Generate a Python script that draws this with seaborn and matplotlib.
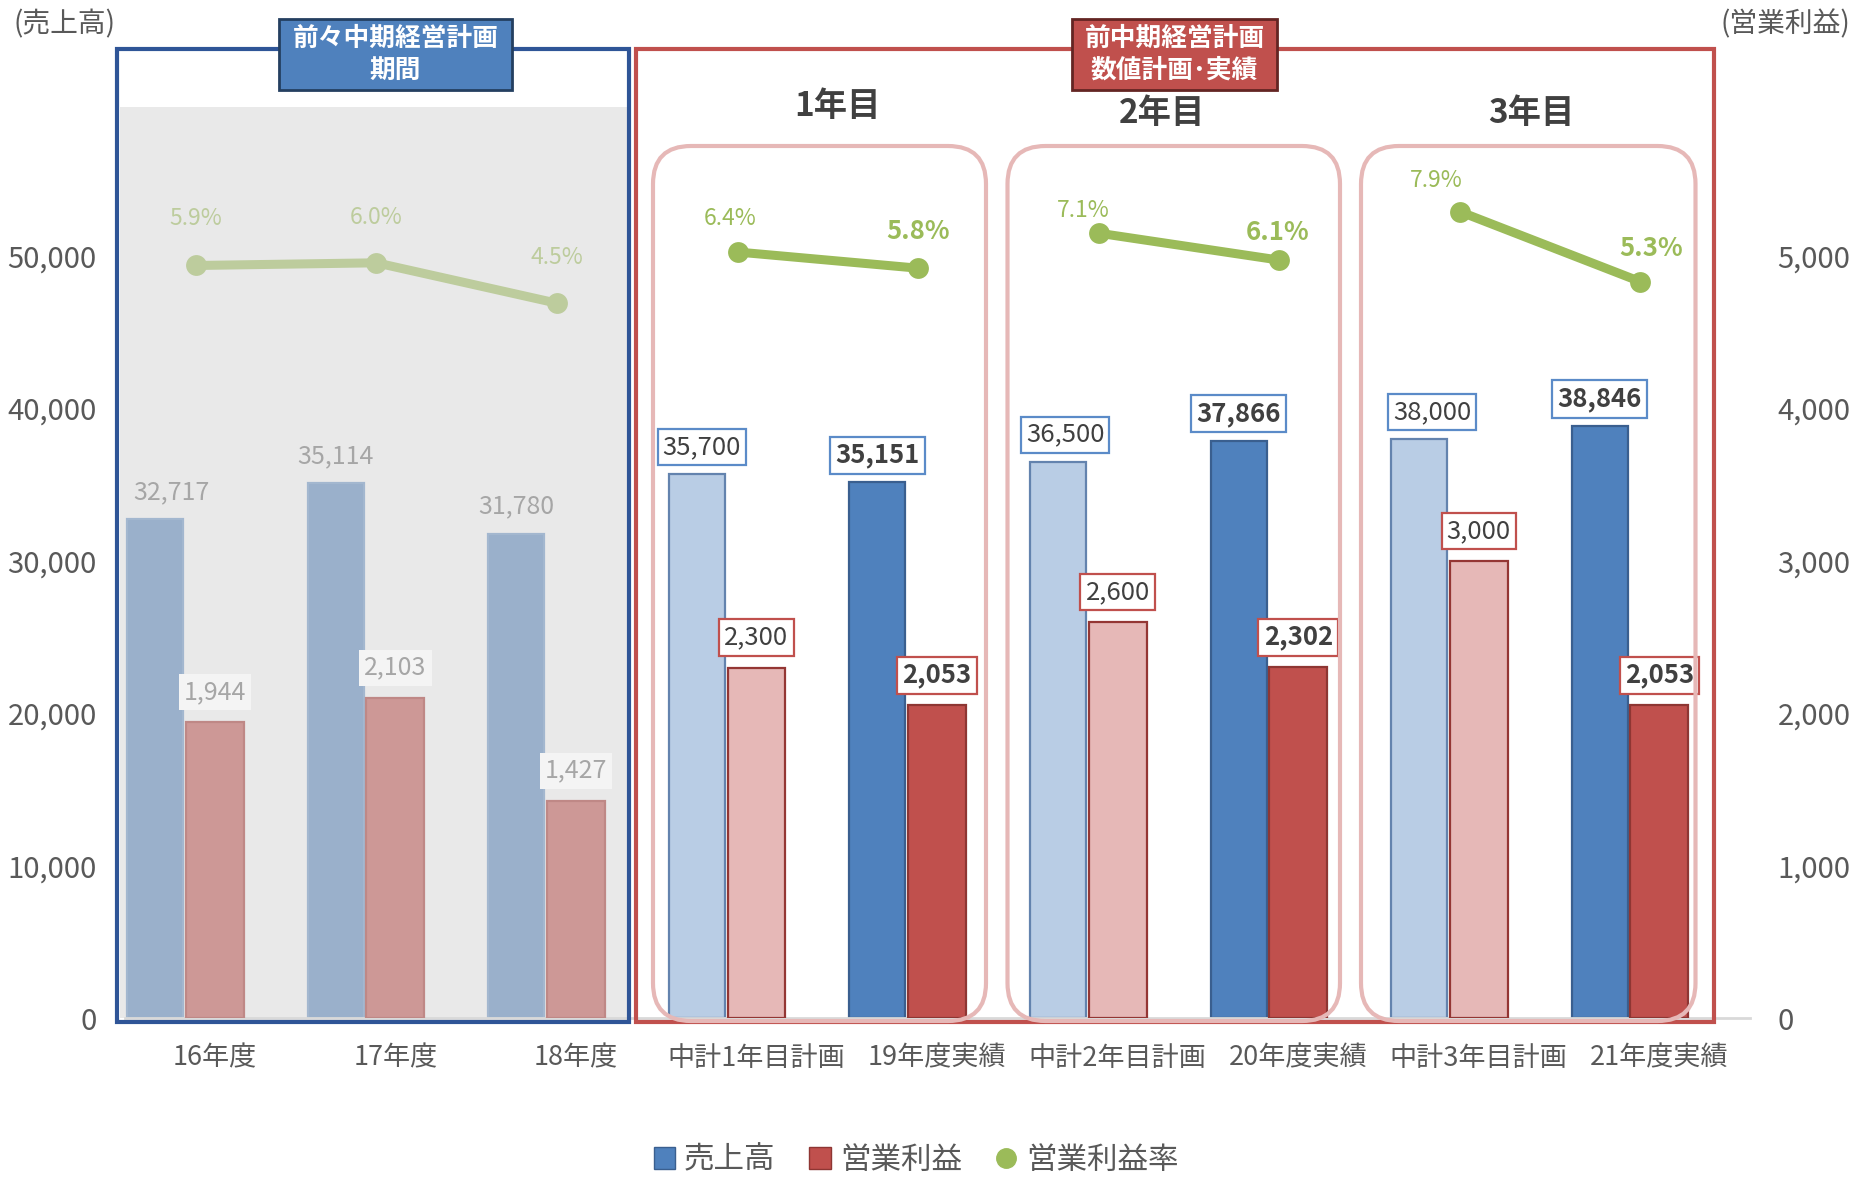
import numpy as np
import pandas as pd
import matplotlib.pyplot as plt
import seaborn as sns
from matplotlib.patches import Rectangle, FancyBboxPatch, Patch
from matplotlib.lines import Line2D
from matplotlib.transforms import IdentityTransform

# chart data
categories = ['16年度', '17年度', '18年度', '中計1年目計画', '19年度実績',
              '中計2年目計画', '20年度実績', '中計3年目計画', '21年度実績']
sales = [32717, 35114, 31780, 35700, 35151, 36500, 37866, 38000, 38846]
profit = [1944, 2103, 1427, 2300, 2053, 2600, 2302, 3000, 2053]
margin = [5.9, 6.0, 4.5, 6.4, 5.8, 7.1, 6.1, 7.9, 5.3]
kinds = ['old', 'old', 'old', 'plan', 'actual', 'plan', 'actual', 'plan', 'actual']
segments = [0, 0, 0, 1, 1, 2, 2, 3, 3]

sns.set_style('white')
plt.rcParams['font.family'] = ['Noto Sans CJK JP', 'DejaVu Sans']

W, H = 1860, 1177
fig = plt.figure(figsize=(W / 100, H / 100), dpi=100)
fig.patch.set_facecolor('white')


def fx(px):
    return px / W


def fy(py):
    return 1 - py / H


ax = fig.add_axes([fx(124.5), fy(1018.3), fx(1749.6) - fx(124.5), fy(103.3) - fy(1018.3)])
ax.set_facecolor('none')
ax2 = ax.twinx()
ax3 = ax.twinx()

df = pd.DataFrame({'pos': np.arange(len(categories)), 'cat': categories,
                   'sales': sales, 'profit': profit, 'margin': margin,
                   'kind': kinds, 'seg': segments})

sales_style = {'old': ('#9AB0CB', '#A3B7CF'), 'plan': ('#B9CDE5', '#6383AE'),
               'actual': ('#4F81BD', '#3A5F8F')}
profit_style = {'old': ('#CD9896', '#BF8886'), 'plan': ('#E6B8B7', '#943634'),
                'actual': ('#C0504D', '#8E3633')}

# bars: sales on left axis, operating profit on right axis
sns.barplot(x=df['pos'] - 0.33, y=df['sales'], native_scale=True, width=0.31,
            errorbar=None, color='#4F81BD', ax=ax)
for bar, k in zip(ax.patches, kinds):
    bar.set_facecolor(sales_style[k][0])
    bar.set_edgecolor(sales_style[k][1])
    bar.set_linewidth(1.6)

sns.barplot(x=df['pos'], y=df['profit'], native_scale=True, width=0.32,
            errorbar=None, color='#C0504D', ax=ax2)
for bar, k in zip(ax2.patches, kinds):
    bar.set_facecolor(profit_style[k][0])
    bar.set_edgecolor(profit_style[k][1])
    bar.set_linewidth(1.6)

# operating margin line, one piece per period
for s in sorted(set(segments)):
    sub = df[df['seg'] == s]
    col = '#BDCC9D' if s == 0 else '#9BBB59'
    sns.lineplot(x=sub['pos'] - 0.105, y=sub['margin'], ax=ax3, color=col,
                 marker='o', markersize=15, markeredgewidth=0, linewidth=6.5)

ax.set_xlim(-0.5, 8.5)
ax.set_ylim(0, 60000)
ax2.set_ylim(0, 6000)
ax3.set_ylim(-22.04, 11.92)

ax.set_xticks(df['pos'], categories)
ax.set_yticks(range(0, 50001, 10000), [f'{v:,}' for v in range(0, 50001, 10000)])
ax2.set_yticks(range(0, 5001, 1000), [f'{v:,}' for v in range(0, 5001, 1000)])
ax.set_xlabel('')
ax.set_ylabel('')
ax2.set_ylabel('')
ax3.axis('off')
for a in (ax, ax2):
    for sp in a.spines.values():
        sp.set_visible(False)
ax.spines['bottom'].set_visible(True)
ax.spines['bottom'].set_color('#D9D9D9')
ax.spines['bottom'].set_linewidth(2)
ax.tick_params(axis='x', length=0, pad=19, labelsize=19.5, labelcolor='#595959')
ax.tick_params(axis='y', length=0, pad=20, labelsize=21, labelcolor='#595959')
ax2.tick_params(axis='y', length=0, pad=20, labelsize=21, labelcolor='#595959')

# data labels
sales_dx = [16, 0, 0, 5, 0, 7, 0, 13, 0]
m_dx = [0, 0, 0, -7, 0, -15, -2, -24, 11]
m_dy = [47, 45, 46, 34, 37, 23, 28, 31, 33]
for i, row in df.iterrows():
    k = row['kind']
    if k == 'old':
        kw = dict(color='#A6A6A6', fontsize=18)
        pkw = dict(color='#A6A6A6', fontsize=18,
                   bbox=dict(boxstyle='square,pad=0.2', fc='#F4F4F4', ec='none'))
    else:
        wt = 'bold' if k == 'actual' else 'normal'
        kw = dict(color='#404040', fontsize=18.5, fontweight=wt,
                  bbox=dict(boxstyle='square,pad=0.2', fc='white', ec='#5B8BC8', lw=1.6))
        pkw = dict(color='#404040', fontsize=18.5, fontweight=wt,
                   bbox=dict(boxstyle='square,pad=0.2', fc='white', ec='#C0504D', lw=1.6))
    ax.annotate(f"{row['sales']:,}", xy=(row['pos'] - 0.33, row['sales']),
                xytext=(sales_dx[i] * 0.72, 27 * 0.72), textcoords='offset points',
                ha='center', va='center', zorder=6, **kw)
    ax2.annotate(f"{row['profit']:,}", xy=(row['pos'], row['profit']),
                 xytext=(0, 30 * 0.72), textcoords='offset points',
                 ha='center', va='center', zorder=6, **pkw)
    if k == 'old':
        mkw = dict(color='#BDCC9D', fontsize=16.5)
    elif k == 'plan':
        mkw = dict(color='#9BBB59', fontsize=16.5)
    else:
        mkw = dict(color='#9BBB59', fontsize=18.5, fontweight='bold')
    ax3.annotate(f"{row['margin']:.1f}%", xy=(row['pos'] - 0.105, row['margin']),
                 xytext=(m_dx[i] * 0.72, m_dy[i] * 0.72), textcoords='offset points',
                 ha='center', va='center', **mkw)

# period frames (pixel coordinates, top-left origin)
ident = IdentityTransform()


def add_rect(x0, y0, x1, y1, **kw):
    p = Rectangle((x0, H - y1), x1 - x0, y1 - y0, transform=ident, **kw)
    fig.add_artist(p)


def add_round(x0, y0, x1, y1, **kw):
    p = FancyBboxPatch((x0, H - y1), x1 - x0, y1 - y0, transform=ident,
                       boxstyle='round,pad=0,rounding_size=38', **kw)
    fig.add_artist(p)


add_rect(120, 107, 626.5, 1018, fc='#E9E9E9', ec='none', zorder=-1)
add_rect(117, 49, 629, 1022, fill=False, ec='#2F5597', lw=3, zorder=3)
add_rect(636, 49, 1714, 1022, fill=False, ec='#C0504D', lw=3, zorder=3)
for x0, x1 in [(653, 986), (1007.5, 1340), (1361, 1695.5)]:
    add_round(x0, 146, x1, 1021, fill=False, ec='#E6B8B7', lw=3, zorder=3)

add_rect(279, 19, 512, 90, fc='#4F81BD', ec='#243F60', lw=2, zorder=5)
fig.text(fx(395.5), fy(54.5), '前々中期経営計画\n期間', ha='center', va='center',
         color='white', fontsize=18.5, fontweight='bold', linespacing=1.2, zorder=6)
add_rect(1072, 19, 1277, 90, fc='#C0504D', ec='#632523', lw=2, zorder=5)
fig.text(fx(1174.5), fy(54.5), '前中期経営計画\n数値計画･実績', ha='center', va='center',
         color='white', fontsize=18.5, fontweight='bold', linespacing=1.2, zorder=6)

for txt, x, y in [('1年目', 837.5, 106.7), ('2年目', 1161.7, 113.3), ('3年目', 1531.8, 113.3)]:
    fig.text(fx(x), fy(y), txt, ha='center', va='center', color='#404040',
             fontsize=24, fontweight='bold')

fig.text(fx(14), fy(24), '(売上高)', ha='left', va='center', color='#595959', fontsize=20)
fig.text(fx(1850), fy(24), '(営業利益)', ha='right', va='center', color='#595959', fontsize=20)

handles = [Patch(fc='#4F81BD', ec='#3A5F8F'), Patch(fc='#C0504D', ec='#8E3633'),
           Line2D([0], [0], marker='o', color='#9BBB59', linestyle='None', markersize=14)]
fig.legend(handles, ['売上高', '営業利益', '営業利益率'], loc='center',
           bbox_to_anchor=(fx(916), fy(1160)), ncol=3, frameon=False, fontsize=22,
           handlelength=0.7, handleheight=0.7, handletextpad=0.3, columnspacing=1.1,
           labelcolor='#595959')

fig.savefig('out.png', dpi=100)
